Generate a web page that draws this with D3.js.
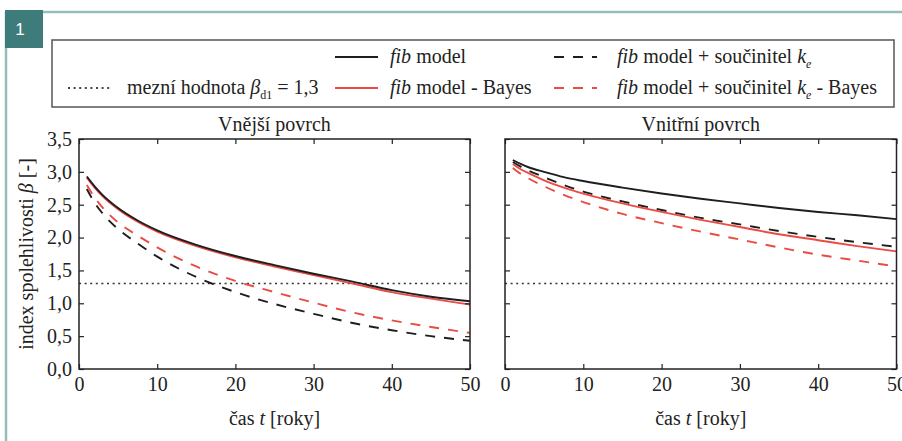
<!DOCTYPE html>
<html>
<head>
<meta charset="utf-8">
<script src="https://cdn.jsdelivr.net/npm/d3@7"></script>
<style>
  body { margin: 0; background: #fff; }
</style>
</head>
<body>
<svg width="902" height="441"></svg>
<script>
// cas t [roky]
const years = [1, 2, 3, 5, 7.5, 10, 15, 20, 25, 30, 35, 40, 45, 50];

// Vnejsi povrch
const outerFib        = [2.93, 2.78, 2.65, 2.45, 2.26, 2.11, 1.89, 1.72, 1.58, 1.45, 1.33, 1.20, 1.10, 1.03];
const outerFibBayes   = [2.91, 2.76, 2.63, 2.43, 2.24, 2.09, 1.87, 1.70, 1.56, 1.43, 1.30, 1.17, 1.07, 0.98];
const outerKe         = [2.74, 2.53, 2.37, 2.13, 1.91, 1.71, 1.40, 1.17, 0.99, 0.84, 0.70, 0.59, 0.50, 0.43];
const outerKeBayes    = [2.80, 2.61, 2.46, 2.23, 2.03, 1.85, 1.56, 1.34, 1.17, 1.01, 0.86, 0.74, 0.64, 0.55];

// Vnitrni povrch
const innerFib        = [3.18, 3.12, 3.07, 3.00, 2.92, 2.86, 2.76, 2.67, 2.59, 2.52, 2.45, 2.39, 2.34, 2.28];
const innerFibBayes   = [3.12, 3.04, 2.98, 2.87, 2.76, 2.67, 2.52, 2.39, 2.27, 2.16, 2.05, 1.96, 1.87, 1.79];
const innerKe         = [3.15, 3.08, 3.02, 2.92, 2.80, 2.70, 2.55, 2.42, 2.30, 2.20, 2.10, 2.01, 1.93, 1.86];
const innerKeBayes    = [3.06, 2.97, 2.90, 2.78, 2.65, 2.54, 2.36, 2.22, 2.09, 1.97, 1.85, 1.74, 1.65, 1.56];

const limitBeta = 1.3;
const xTicks = [0, 10, 20, 30, 40, 50];
const yTicks = [0, 0.5, 1, 1.5, 2, 2.5, 3, 3.5];

const black = "#1e1e1e";
const red = "#ea4b43";
const teal = "#3d7c7a";
const tealLight = "#93bfbb";
const dashed = "10,9";
const dotted = "2,3.6";
const FONT = "Liberation Serif";

const svg = d3.select("svg");

// outer frame + badge
svg.append("line").attr("x1", 6).attr("y1", 12).attr("x2", 6).attr("y2", 441)
    .attr("stroke", tealLight).attr("stroke-width", 2.5);
svg.append("line").attr("x1", 6).attr("y1", 12).attr("x2", 902).attr("y2", 12)
    .attr("stroke", tealLight).attr("stroke-width", 2.5);
svg.append("rect").attr("x", 5).attr("y", 10).attr("width", 38).attr("height", 38).attr("fill", teal);
svg.append("text").attr("x", 20).attr("y", 35).text("1")
    .style("font-family", "Liberation Sans").style("fill", "#fff")
    .attr("font-size", 17).attr("text-anchor", "middle");

const fmt = d => d3.format(".1f")(d).replace(".", ",");

const series = [
    { key: "fib", color: black, dash: null },
    { key: "fibBayes", color: red, dash: null },
    { key: "ke", color: black, dash: dashed },
    { key: "keBayes", color: red, dash: dashed }
];

const panels = [
    { title: "Vnější povrch", x0: 79, x1: 470, ylabels: true,
      data: { fib: outerFib, fibBayes: outerFibBayes, ke: outerKe, keBayes: outerKeBayes } },
    { title: "Vnitřní povrch", x0: 505, x1: 896.5, ylabels: false,
      data: { fib: innerFib, fibBayes: innerFibBayes, ke: innerKe, keBayes: innerKeBayes } }
];

const y = d3.scaleLinear().domain([0, 3.5]).range([369, 139]);

function serifText(sel, size) {
    return sel.attr("font-family", FONT).style("font-family", FONT)
        .style("fill", "#222").attr("font-size", size);
}

panels.forEach(function(p) {
    const x = d3.scaleLinear().domain([0, 50]).range([p.x0, p.x1]);
    const g = svg.append("g");

    // limit line
    g.append("line")
        .attr("x1", x(0)).attr("x2", x(50))
        .attr("y1", y(limitBeta)).attr("y2", y(limitBeta))
        .attr("stroke", "#333").attr("stroke-width", 1.6)
        .attr("stroke-dasharray", dotted);

    const line = d3.line()
        .x(function(d) { return x(d[0]); })
        .y(function(d) { return y(d[1]); })
        .curve(d3.curveMonotoneX);

    // draw order: dashed first, then solid
    [series[3], series[2], series[1], series[0]].forEach(function(s) {
        const pts = years.map(function(t, i) { return [t, p.data[s.key][i]]; });
        g.append("path")
            .datum(pts)
            .attr("d", line)
            .attr("fill", "none")
            .attr("stroke", s.color)
            .attr("stroke-width", 1.9)
            .attr("stroke-dasharray", s.dash);
    });

    // axes, ticks pointing inside
    const axB = g.append("g").attr("transform", "translate(0," + y(0) + ")")
        .call(d3.axisBottom(x).tickValues(xTicks).tickSizeInner(-5).tickSizeOuter(0).tickPadding(10));
    const axT = g.append("g").attr("transform", "translate(0," + y(3.5) + ")")
        .call(d3.axisTop(x).tickValues(xTicks).tickSizeInner(-5).tickSizeOuter(0).tickFormat(""));
    const axL = g.append("g").attr("transform", "translate(" + x(0) + ",0)")
        .call(d3.axisLeft(y).tickValues(yTicks).tickSizeInner(-5).tickSizeOuter(0).tickPadding(7)
            .tickFormat(p.ylabels ? fmt : ""));
    const axR = g.append("g").attr("transform", "translate(" + x(50) + ",0)")
        .call(d3.axisRight(y).tickValues(yTicks).tickSizeInner(-5).tickSizeOuter(0).tickFormat(""));

    [axB, axT, axL, axR].forEach(function(a) {
        a.attr("font-family", FONT);
        a.select(".domain").remove();
        a.selectAll(".tick line").attr("stroke", "#222").attr("stroke-width", 1.2);
        serifText(a.selectAll(".tick text"), 20);
    });
    axB.selectAll(".tick text").attr("dy", "0.62em");

    // frame
    g.append("rect")
        .attr("x", x(0)).attr("y", y(3.5))
        .attr("width", x(50) - x(0)).attr("height", y(0) - y(3.5))
        .attr("fill", "none").attr("stroke", "#222").attr("stroke-width", 1.5);

    serifText(g.append("text"), 20)
        .attr("x", (x(0) + x(50)) / 2).attr("y", 131)
        .attr("text-anchor", "middle")
        .text(p.title);

    const xl = serifText(g.append("text"), 20)
        .attr("x", (x(0) + x(50)) / 2).attr("y", 425)
        .attr("text-anchor", "middle");
    xl.append("tspan").text("čas ");
    xl.append("tspan").attr("font-style", "italic").text("t");
    xl.append("tspan").text(" [roky]");
});

// y axis label
const yl = serifText(svg.append("text"), 20)
    .attr("transform", "translate(33,254) rotate(-90)")
    .attr("text-anchor", "middle");
yl.append("tspan").text("index spolehlivosti ");
yl.append("tspan").attr("font-style", "italic").text("β");
yl.append("tspan").text(" [-]");

// legend
const lg = svg.append("g");
lg.append("rect").attr("x", 52).attr("y", 40).attr("width", 842).attr("height", 67)
    .attr("fill", "#fff").attr("stroke", "#555").attr("stroke-width", 1.5);

function sample(x, yy, color, dash) {
    lg.append("line").attr("x1", x).attr("x2", x + 43).attr("y1", yy).attr("y2", yy)
        .attr("stroke", color).attr("stroke-width", 2).attr("stroke-dasharray", dash);
}
function label(x, yy, parts) {
    const t = serifText(lg.append("text"), 20).attr("x", x).attr("y", yy + 6);
    parts.forEach(function(pt) {
        const s = t.append("tspan").text(pt.t);
        if (pt.i) s.attr("font-style", "italic");
        if (pt.sub) s.attr("font-size", 12).attr("dy", 5);
        if (pt.up) s.attr("dy", -5);
    });
}

const row1 = 57, row2 = 88;
sample(335, row1, black, null);
label(390, row1, [{ t: "fib", i: true }, { t: " model" }]);
sample(554, row1, black, dashed);
label(617, row1, [{ t: "fib", i: true }, { t: " model + součinitel " }, { t: "k", i: true }, { t: "e", i: true, sub: true }]);

sample(68, row2, "#444", dotted);
label(127, row2, [{ t: "mezní hodnota " }, { t: "β", i: true }, { t: "d1", sub: true }, { t: " = 1,3", up: true }]);
sample(335, row2, red, null);
label(390, row2, [{ t: "fib", i: true }, { t: " model - Bayes" }]);
sample(554, row2, red, dashed);
label(617, row2, [{ t: "fib", i: true }, { t: " model + součinitel " }, { t: "k", i: true }, { t: "e", i: true, sub: true }, { t: " - Bayes", up: true }]);
</script>
</body>
</html>
